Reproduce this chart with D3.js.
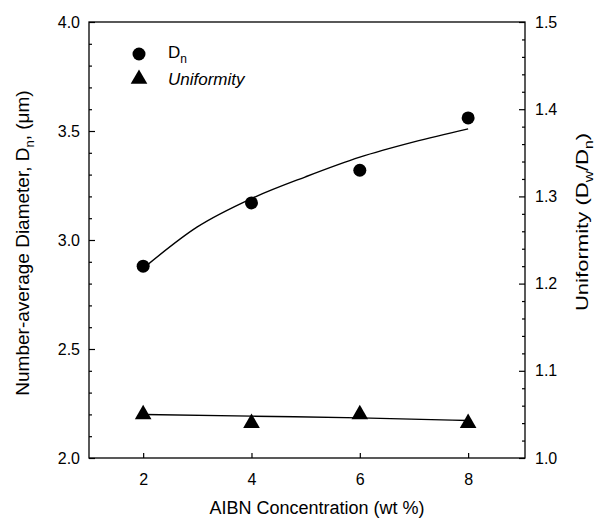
<!DOCTYPE html>
<html><head><meta charset="utf-8">
<script src="https://cdn.jsdelivr.net/npm/d3@7"></script>
<style>body{margin:0;background:#fff}svg{display:block}text{font-family:"Liberation Sans",Arial,sans-serif;fill:#000}</style>
</head><body><svg id="c" width="597" height="521"></svg>
<script>
const concentrations = [2, 4, 6, 8];
const dnValues = [2.88, 3.17, 3.32, 3.56];
const uniformityValues = [1.05, 1.04, 1.05, 1.04];
const dnFitX = [2, 3, 4, 5, 6, 7, 8];
const dnFitY = [2.87, 3.06, 3.19, 3.29, 3.38, 3.45, 3.51];
const uFitX = [2, 4, 6, 8];
const uFitY = [1.050, 1.048, 1.046, 1.043];
const xTicks = [2, 4, 6, 8];
const leftTicks = [2.0, 2.5, 3.0, 3.5, 4.0];
const rightTicks = [1.0, 1.1, 1.2, 1.3, 1.4, 1.5];

const svg = d3.select("#c");
const L = 89, R = 525, T = 22, B = 458;
const x = d3.scaleLinear().domain([1, 9.05]).range([L, R]);
const yL = d3.scaleLinear().domain([2, 4]).range([B, T]);
const yR = d3.scaleLinear().domain([1, 1.5]).range([B, T]);

const g = svg.append("g");
g.append("rect").attr("x", L).attr("y", T).attr("width", R - L).attr("height", B - T)
  .attr("fill", "none").attr("stroke", "#000").attr("stroke-width", 1.3);

g.append("g").attr("transform", `translate(0,${B})`)
  .call(d3.axisBottom(x).tickValues(xTicks).tickSize(-5).tickPadding(16).tickFormat(d3.format("d")));
g.append("g").attr("transform", `translate(${L},0)`)
  .call(d3.axisLeft(yL).tickValues(leftTicks).tickSize(-6).tickPadding(9).tickFormat(d3.format(".1f")));
g.append("g").attr("transform", `translate(${L},0)`)
  .call(d3.axisLeft(yL).tickValues(d3.range(2.1, 4, 0.1).filter(v => Math.abs(v * 2 - Math.round(v * 2)) > 1e-6)).tickSize(-3).tickFormat(""));
g.append("g").attr("transform", `translate(${R},0)`)
  .call(d3.axisRight(yR).tickValues(rightTicks).tickSize(-6).tickPadding(10).tickFormat(d3.format(".1f")));
g.append("g").attr("transform", `translate(${R},0)`)
  .call(d3.axisRight(yR).tickValues(d3.range(1.02, 1.5, 0.02).filter(v => Math.abs(v * 10 - Math.round(v * 10)) > 1e-6)).tickSize(-3).tickFormat(""));
g.selectAll(".domain").remove();
g.selectAll(".tick line").attr("stroke", "#000").attr("stroke-width", 1.2);
g.selectAll(".tick text").attr("font-size", 16).attr("font-family", "Liberation Sans, Arial, sans-serif");

const line = d3.line().curve(d3.curveMonotoneX);
g.append("path").attr("d", line(dnFitX.map((v, i) => [x(v), yL(dnFitY[i])])))
  .attr("fill", "none").attr("stroke", "#000").attr("stroke-width", 1.4);
g.append("path").attr("d", line(uFitX.map((v, i) => [x(v), yR(uFitY[i])])))
  .attr("fill", "none").attr("stroke", "#000").attr("stroke-width", 1.4);

g.selectAll("circle.dn").data(concentrations).join("circle")
  .attr("cx", d => x(d)).attr("cy", (d, i) => yL(dnValues[i])).attr("r", 6.5).attr("fill", "#000");
const tri = d3.symbol().type(d3.symbolTriangle).size(120);
g.selectAll("path.u").data(concentrations).join("path")
  .attr("transform", (d, i) => `translate(${x(d)},${yR(uniformityValues[i])})`)
  .attr("d", tri).attr("fill", "#000");

// legend
g.append("circle").attr("cx", 139).attr("cy", 54).attr("r", 6.5).attr("fill", "#000");
g.append("path").attr("transform", "translate(139,79)").attr("d", tri).attr("fill", "#000");
const t1 = g.append("text").attr("x", 168).attr("y", 58).attr("font-size", 17);
t1.append("tspan").text("D");
t1.append("tspan").attr("font-size", 12).attr("dy", 5).text("n");
g.append("text").attr("x", 168).attr("y", 85).attr("font-size", 17).attr("font-style", "italic").text("Uniformity");

// axis titles
g.append("text").attr("x", 317).attr("y", 514).attr("text-anchor", "middle").attr("font-size", 18)
  .text("AIBN Concentration (wt %)");
const lt = g.append("text").attr("transform", "translate(29,243) rotate(-90)").attr("text-anchor", "middle").attr("font-size", 19);
lt.append("tspan").text("Number-average Diameter, D");
lt.append("tspan").attr("font-size", 13).attr("dy", 5).text("n");
lt.append("tspan").attr("dy", -5).text(", (μm)");
const rt = g.append("text").attr("transform", "translate(588,222) rotate(-90) scale(1.3,1)").attr("text-anchor", "middle").attr("font-size", 17);
rt.append("tspan").text("Uniformity (D");
rt.append("tspan").attr("font-size", 12).attr("dy", 5).text("w");
rt.append("tspan").attr("dy", -5).text("/D");
rt.append("tspan").attr("font-size", 12).attr("dy", 5).text("n");
rt.append("tspan").attr("dy", -5).text(")");
</script></body></html>
